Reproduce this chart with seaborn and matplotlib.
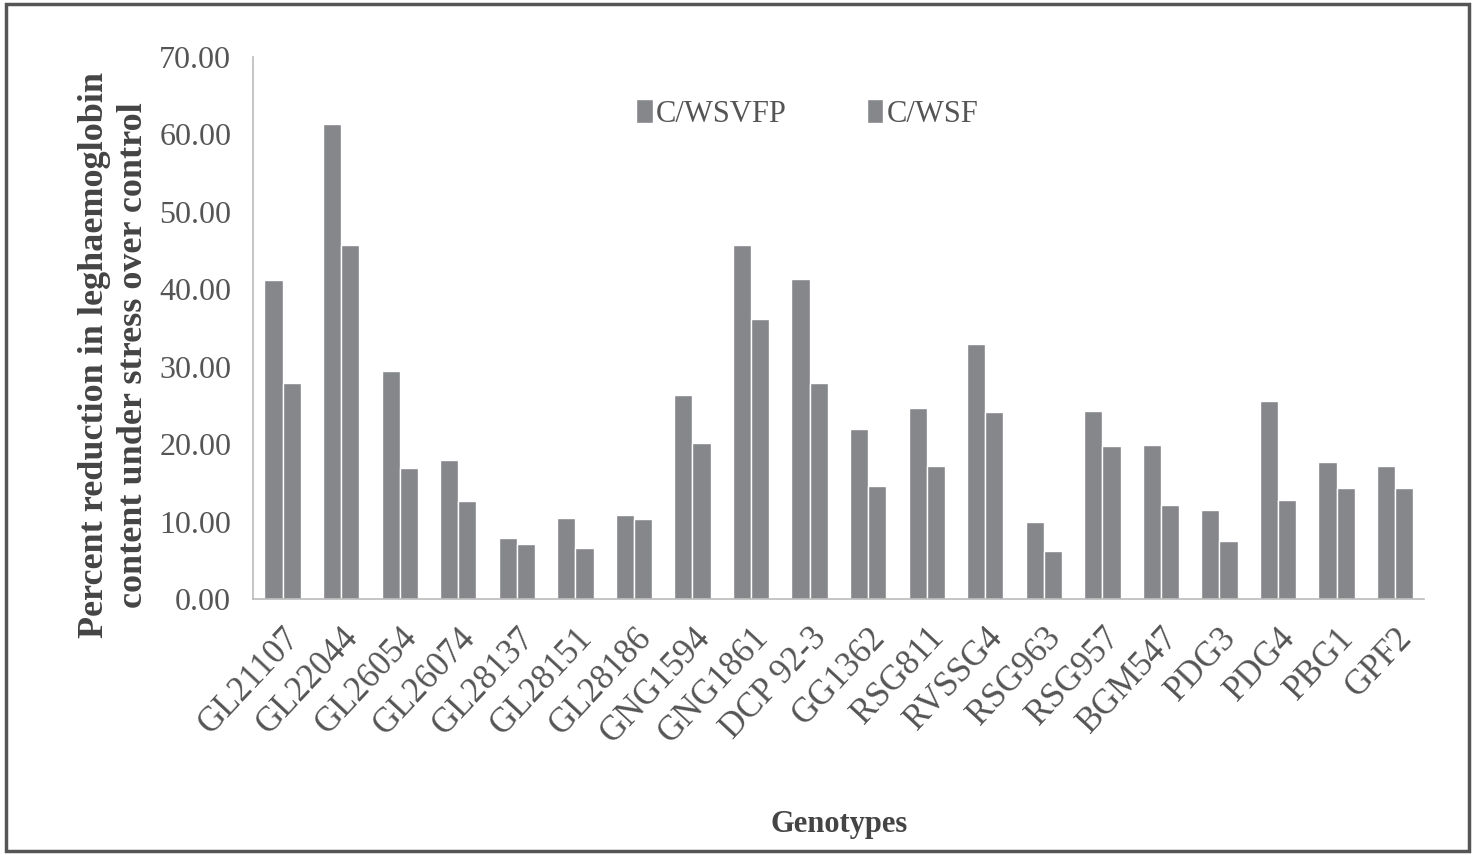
import matplotlib
matplotlib.use("Agg")
import matplotlib.pyplot as plt
import pandas as pd
import seaborn as sns
from matplotlib.patches import Rectangle

genotypes = ["GL21107", "GL22044", "GL26054", "GL26074", "GL28137", "GL28151",
             "GL28186", "GNG1594", "GNG1861", "DCP 92-3", "GG1362", "RSG811",
             "RVSSG4", "RSG963", "RSG957", "BGM547", "PDG3", "PDG4", "PBG1", "GPF2"]
c_wsvfp = [41.2, 61.4, 29.5, 18.0, 7.9, 10.5, 10.9, 26.4, 45.7, 41.3,
           21.9, 24.7, 32.9, 10.0, 24.3, 19.9, 11.5, 25.6, 17.7, 17.2]
c_wsf = [27.9, 45.7, 16.9, 12.7, 7.1, 6.6, 10.3, 20.1, 36.1, 27.9,
         14.6, 17.2, 24.1, 6.2, 19.7, 12.2, 7.5, 12.8, 14.4, 14.4]
series = ["C/WSVFP", "C/WSF"]

df = pd.DataFrame({
    "Genotype": genotypes * 2,
    "Series": [series[0]] * len(genotypes) + [series[1]] * len(genotypes),
    "Value": c_wsvfp + c_wsf,
})

sns.set_style("white")
plt.rcParams["font.family"] = ["Liberation Serif", "DejaVu Serif"]

BAR = "#86878b"
TXT = "#555555"

fig = plt.figure(figsize=(14.73, 8.55), dpi=100)
ax = fig.add_axes([0.172, 0.2994, 0.795, 0.634])

sns.barplot(data=df, x="Genotype", y="Value", hue="Series",
            palette=[BAR, BAR], width=0.62, saturation=1, ax=ax)

ax.set_ylim(0, 70)
ax.set_yticks(range(0, 71, 10))
ax.set_yticklabels([f"{v:.2f}" for v in range(0, 71, 10)],
                   fontsize=23, color=TXT)
ax.set_xlim(-0.5, len(genotypes) - 0.5)
ax.set_xticks(range(len(genotypes)))
ax.set_xticklabels(genotypes, rotation=47, ha="right", rotation_mode="anchor",
                   fontsize=25, color=TXT)
ax.set_xticks([i - 0.5 for i in range(len(genotypes) + 1)], minor=True)
ax.tick_params(axis="x", which="major", length=0, pad=16)
ax.tick_params(axis="x", which="minor", length=8, color="#bbbbbb", width=1.2)
ax.tick_params(axis="y", length=8, color="#bbbbbb", width=1.2, pad=8)

for s in ["top", "right"]:
    ax.spines[s].set_visible(False)
for s in ["left", "bottom"]:
    ax.spines[s].set_color("#bbbbbb")
    ax.spines[s].set_linewidth(1.2)

ax.set_xlabel("Genotypes", fontsize=22, fontweight="bold", color="#444444")
ax.xaxis.set_label_coords(0.5, -0.39)
ax.set_ylabel("Percent reduction in leghaemoglobin\ncontent under stress over control",
              fontsize=26, fontweight="bold", color="#444444", linespacing=1.25)
ax.yaxis.set_label_coords(-0.088, 0.45)

ax.legend(loc="center", bbox_to_anchor=(0.473, 0.895), ncol=2,
          frameon=False, fontsize=22, handlelength=0.55, handleheight=0.8,
          handletextpad=0.1, columnspacing=2.6, labelcolor=TXT)

fig.patches.append(Rectangle((0.004, 0.005), 0.993, 0.99, transform=fig.transFigure,
                             fill=False, edgecolor="#555555", linewidth=2.5))

fig.savefig("out.png", dpi=100)
